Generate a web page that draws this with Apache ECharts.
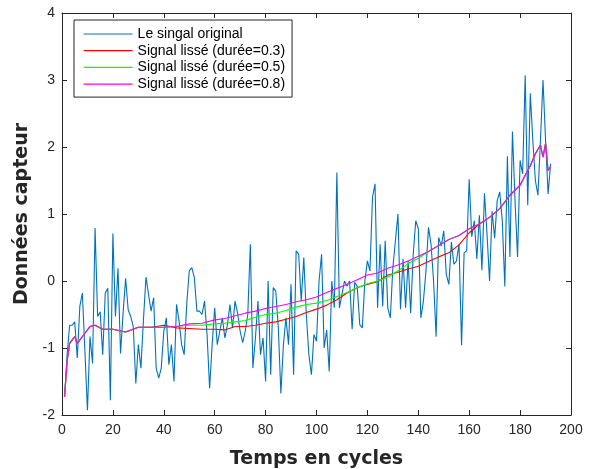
<!DOCTYPE html>
<html>
<head>
<meta charset="utf-8">
<script src="https://cdn.jsdelivr.net/npm/echarts@6/dist/echarts.min.js"></script>
<style>
  html, body { margin: 0; padding: 0; background: #fff; }
  #chart { width: 593px; height: 469px; }
</style>
</head>
<body>
<div id="chart"></div>
<script>
// signal brut, un point par cycle (x = 1..192)
const rawValues = [
  -1.73, -1.1, -0.66, -0.66, -0.61, -1.15, -0.38, -0.18, -1.05, -1.93,
  -0.83, -1.23, 0.79, -0.53, -0.46, -1.1, -0.18, -0.11, -1.78, 0.71,
  -0.53, 0.19, -1.08, -0.48, 0.04, -0.43, -0.53, -0.68, -1.53, -0.95,
  -1.3, -0.58, 0.06, -0.2, -0.45, -0.25, -1.3, -1.45, -1.3, -0.75,
  -0.55, -1.25, -0.95, -1.5, -0.35, -0.6, -0.95, -1.1, -0.35, 0.15,
  0.2, 0.05, -0.45, -0.45, -0.5, -0.3, -0.8, -1.6, -0.95, -0.4,
  -0.95, -0.75, -0.55, -0.85, -0.65, -0.35, -0.7, -0.3, -0.48, -0.75,
  -0.92, -0.75, -0.5, 0.55, -1.3, -0.85, -0.3, -1.1, -0.85, -1.5,
  0.0, -1.4, -0.1, -0.15, -0.7, -1.68, -0.95, -0.55, -0.95, -0.05,
  -1.4, 0.45, 0.4, -0.3, 0.35, -0.5, -1.1, -1.4, -0.8, -0.9,
  0.0, 0.4, -1.0, -0.73, -1.35, 0.0, -0.4, 1.62, -0.4, -0.2,
  0.0, -0.08, 0.0, -0.72, -0.02, -0.08, -0.65, -0.7, 0.0, 0.3,
  0.15, 1.25, 1.45, -0.4, 0.55, -0.38, 0.6, -0.4, -0.55, 0.2,
  0.6, 1.0, -0.42, 0.33, -0.4, 0.3, -0.48, 0.4, 0.9, 0.78,
  -0.55, -0.3, 0.15, 0.8, 0.55, 0.0, -0.83, 0.65, 0.52, 0.75,
  0.1, -0.05, 0.58, 0.25, 0.3, 0.55, -0.96, 0.42, 0.45, 1.52,
  0.66, 0.9, 0.33, 0.98, 0.16, 1.31, 0.7, 0.0, 1.04, 0.64,
  1.2, 1.33, 0.9, -0.08, 1.86, 0.36, 2.23, 1.2, 0.36, 1.8,
  1.6, 3.07, 1.13, 2.8, 2.1, 1.5, 1.28, 2.1, 3.0, 2.1,
  1.3, 1.75
];

// abscisses où les courbes lissées ont été relevées
const smoothX = [1, 2, 3, 5, 6, 9, 11, 13, 16, 20, 25, 30, 35, 40, 45, 50, 55, 60, 64, 68,
  72, 76, 80, 84, 88, 92, 96, 100, 104, 108, 112, 116, 120, 124, 128, 132, 136, 140, 144, 148,
  152, 156, 160, 164, 168, 172, 176, 180, 182, 184, 186, 188, 189, 190, 191, 192];

// durée = 0.3
const smooth03 = [-1.73, -1.2, -0.93, -0.83, -0.93, -0.78, -0.68, -0.66, -0.72, -0.72,
  -0.76, -0.69, -0.69, -0.66, -0.7, -0.71, -0.72, -0.72, -0.73, -0.68,
  -0.68, -0.66, -0.63, -0.61, -0.57, -0.53, -0.47, -0.42, -0.36, -0.28,
  -0.18, -0.1, -0.05, -0.01, 0.09, 0.13, 0.18, 0.22, 0.29, 0.36,
  0.42, 0.54, 0.72, 0.85, 0.95, 1.08, 1.28, 1.43, 1.58, 1.72,
  1.9, 2.03, 1.85, 2.05, 1.65, 1.71];

// durée = 0.5
const smooth05 = [-1.73, -1.2, -0.93, -0.83, -0.93, -0.78, -0.68, -0.66, -0.72, -0.72,
  -0.76, -0.69, -0.69, -0.69, -0.68, -0.66, -0.66, -0.64, -0.63, -0.61,
  -0.59, -0.54, -0.5, -0.48, -0.44, -0.39, -0.35, -0.33, -0.29, -0.23,
  -0.17, -0.1, -0.04, 0.0, 0.06, 0.15, 0.26, 0.34, 0.44, 0.53,
  0.62, 0.68, 0.78, 0.85, 0.95, 1.08, 1.28, 1.43, 1.58, 1.72,
  1.9, 2.03, 1.85, 2.05, 1.65, 1.71];

// durée = 0.8
const smooth08 = [-1.73, -1.2, -0.93, -0.83, -0.93, -0.78, -0.68, -0.66, -0.72, -0.72,
  -0.76, -0.69, -0.69, -0.69, -0.68, -0.64, -0.63, -0.58, -0.56, -0.52,
  -0.48, -0.45, -0.41, -0.38, -0.35, -0.31, -0.28, -0.24, -0.17, -0.11,
  -0.05, 0.02, 0.09, 0.12, 0.19, 0.24, 0.3, 0.37, 0.44, 0.53,
  0.62, 0.68, 0.78, 0.85, 0.95, 1.08, 1.28, 1.43, 1.58, 1.72,
  1.9, 2.03, 1.85, 2.05, 1.65, 1.71];

const seriesNames = ['Le singal original', 'Signal lissé (durée=0.3)', 'Signal lissé (durée=0.5)', 'Signal lissé (durée=0.8)'];

const font = 'Liberation Sans, Arial, Helvetica, sans-serif';
const boldFont = 'DejaVu Sans, Liberation Sans, sans-serif';
const ink = '#262626';

const pairs = (xs, ys) => ys.map((v, i) => [xs[i], v]);
const rawData = rawValues.map((v, i) => [i + 1, v]);

const chart = echarts.init(document.getElementById('chart'));

// axes en boîte, graduations vers l'intérieur
const boxAxis = {
  axisLine: { show: true, onZero: false, lineStyle: { color: ink, width: 1 } },
  axisTick: { show: true, inside: true, length: 5, lineStyle: { color: ink } },
  splitLine: { show: false }
};

chart.setOption({
  animation: false,
  backgroundColor: '#fff',
  grid: { left: 62, right: 22, top: 13, bottom: 54, outerBoundsMode: 'none' },
  legend: {
    orient: 'vertical',
    left: 74,
    top: 20,
    padding: [7, 7, 6, 9],
    itemWidth: 49,
    itemHeight: 12,
    itemGap: 2.7,
    borderColor: ink,
    borderWidth: 1,
    borderRadius: 0,
    backgroundColor: '#fff',
    itemStyle: { opacity: 0 },
    lineStyle: { width: 1.2 },
    textStyle: { fontSize: 14, color: '#000', fontFamily: font },
    data: seriesNames
  },
  xAxis: [
    Object.assign({
      type: 'value', min: 0, max: 200, interval: 20, position: 'bottom',
      name: 'Temps en cycles', nameLocation: 'middle', nameGap: 35,
      nameTextStyle: { fontSize: 19, fontWeight: 'bold', color: ink, fontFamily: boldFont },
      axisLabel: { fontSize: 14, color: ink, fontFamily: font, margin: 8 }
    }, boxAxis),
    Object.assign({
      type: 'value', min: 0, max: 200, interval: 20, position: 'top',
      axisLabel: { show: false }
    }, boxAxis)
  ],
  yAxis: [
    Object.assign({
      type: 'value', min: -2, max: 4, interval: 1, position: 'left',
      name: 'Données capteur', nameLocation: 'middle', nameGap: 15,
      nameTextStyle: { fontSize: 19, fontWeight: 'bold', color: ink, fontFamily: boldFont },
      axisLabel: { fontSize: 14, color: ink, fontFamily: font, margin: 7 }
    }, boxAxis),
    Object.assign({
      type: 'value', min: -2, max: 4, interval: 1, position: 'right',
      axisLabel: { show: false }
    }, boxAxis)
  ],
  series: [
    {
      name: seriesNames[0], type: 'line', data: rawData, symbol: 'none',
      lineStyle: { color: '#0072BD', width: 1.1 }, itemStyle: { color: '#0072BD' }
    },
    {
      name: seriesNames[1], type: 'line', data: pairs(smoothX, smooth03), symbol: 'none',
      lineStyle: { color: '#FF0000', width: 1.1 }, itemStyle: { color: '#FF0000' }
    },
    {
      name: seriesNames[2], type: 'line', data: pairs(smoothX, smooth05), symbol: 'none',
      lineStyle: { color: '#00FF00', width: 1.1 }, itemStyle: { color: '#00FF00' }
    },
    {
      name: seriesNames[3], type: 'line', data: pairs(smoothX, smooth08), symbol: 'none',
      lineStyle: { color: '#FF00FF', width: 1.1 }, itemStyle: { color: '#FF00FF' }
    }
  ]
});
</script>
</body>
</html>
